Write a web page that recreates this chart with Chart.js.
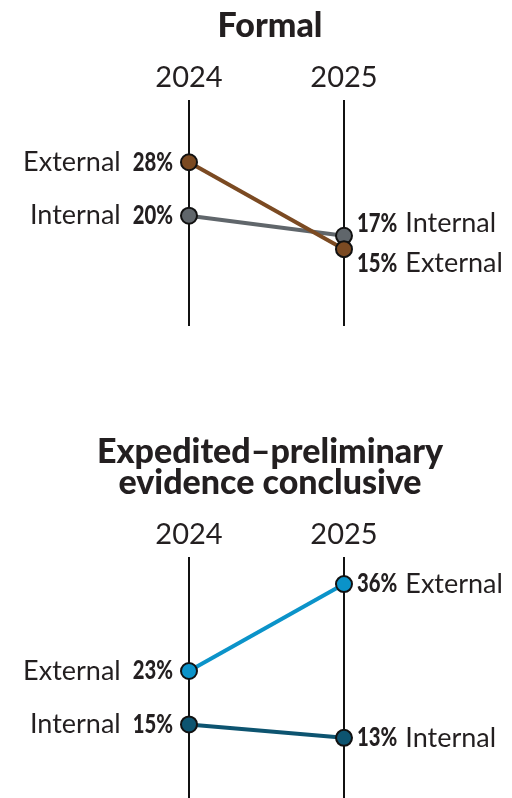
<!DOCTYPE html>
<html>
<head>
<meta charset="utf-8">
<script src="https://cdn.jsdelivr.net/npm/chart.js@4/dist/chart.umd.min.js"></script>
<style>
  html, body { margin: 0; padding: 0; background: #fff; }
  .box { position: absolute; left: 0; width: 512px; }
  #one { top: 0; height: 326px; }
  #two { top: 400px; height: 398px; }
</style>
</head>
<body>
<div class="box" id="one"><canvas id="formal"></canvas></div>
<div class="box" id="two"><canvas id="expedited"></canvas></div>
<script>
const years = [2024, 2025];

const formalTitle = 'Formal';
const formalExternal = [28, 15];
const formalInternal = [20, 17];

const expeditedTitle = ['Expedited\u2013preliminary', 'evidence conclusive'];
const expeditedExternal = [23, 36];
const expeditedInternal = [15, 13];

const ink = '#231f20';
const labelFont = "27px Lato, 'Noto Sans', sans-serif";
const pctFont = "900 26px Lato, 'Noto Sans', sans-serif";
const squeeze = 0.78; // procenten smaller maken

function drawPct(ctx, text, x, y, alignRight) {
  ctx.save();
  ctx.font = pctFont;
  const w = ctx.measureText(text).width * squeeze;
  ctx.translate(alignRight ? x - w : x, y);
  ctx.scale(squeeze, 1);
  ctx.textAlign = 'left';
  ctx.fillText(text, 0, 0);
  ctx.restore();
  return w;
}

// zet de labels naast de punten
const pointLabels = {
  id: 'pointLabels',
  afterDatasetsDraw(chart) {
    const ctx = chart.ctx;
    const sides = [[], []];
    chart.data.datasets.forEach((ds, i) => {
      const meta = chart.getDatasetMeta(i);
      meta.data.forEach((pt, j) => {
        sides[j].push({ x: pt.x, y: pt.y, name: ds.label, pct: ds.data[j].y + '%' });
      });
    });
    sides.forEach((list, side) => {
      list.sort((a, b) => a.y - b.y);
      // labels uit elkaar duwen als ze overlappen
      for (let k = 1; k < list.length; k++) {
        const gap = list[k].y - list[k - 1].y;
        if (gap < 40) {
          const push = (40 - gap) / 2;
          list[k - 1].y -= push - 1;
          list[k].y += push + 1;
        }
      }
      list.forEach(l => {
        ctx.save();
        ctx.textBaseline = 'middle';
        ctx.fillStyle = ink;
        if (side === 0) {
          const w = drawPct(ctx, l.pct, l.x - 16, l.y, true);
          ctx.font = labelFont;
          ctx.textAlign = 'right';
          ctx.fillText(l.name, l.x - 16 - w - 12, l.y);
        } else {
          const w = drawPct(ctx, l.pct, l.x + 13, l.y, false);
          ctx.font = labelFont;
          ctx.textAlign = 'left';
          ctx.fillText(l.name, l.x + 13 + w + 8, l.y);
        }
        ctx.restore();
      });
    });
  }
};

function makeChart(el, title, series, colors, yMin, yMax, padTop) {
  new Chart(document.getElementById(el), {
    type: 'line',
    data: {
      datasets: series.map((s, i) => ({
        label: s.name,
        data: s.values.map((v, j) => ({ x: years[j], y: v })),
        borderColor: colors[i],
        backgroundColor: colors[i],
        pointBackgroundColor: colors[i],
        pointBorderColor: '#111',
        pointBorderWidth: 2,
        pointRadius: 8,
        borderWidth: 4,
        clip: false
      }))
    },
    options: {
      responsive: true,
      maintainAspectRatio: false,
      animation: false,
      layout: { autoPadding: false, padding: { left: 28, right: 0, top: padTop, bottom: 0 } },
      plugins: {
        legend: { display: false },
        tooltip: { enabled: false },
        title: {
          display: true,
          text: title,
          color: ink,
          font: { family: 'Lato', size: 34, weight: 900, lineHeight: 0.92 },
          padding: { top: 0, bottom: 14 }
        }
      },
      scales: {
        x: {
          type: 'linear',
          position: 'top',
          min: 2022.9613,
          max: 2026.0839,
          afterBuildTicks: scale => { scale.ticks = years.map(v => ({ value: v })); },
          grid: { color: '#111', lineWidth: 2, drawTicks: false },
          border: { display: false },
          ticks: { color: ink, font: { family: 'Lato', size: 29 }, padding: 5, callback: v => String(v) }
        },
        y: { display: false, min: yMin, max: yMax }
      }
    },
    plugins: [pointLabels]
  });
}

makeChart('formal', formalTitle,
  [{ name: 'External', values: formalExternal }, { name: 'Internal', values: formalInternal }],
  ['#7b4a22', '#60666b'], 3.5, 37.3, 10);

makeChart('expedited', expeditedTitle,
  [{ name: 'External', values: expeditedExternal }, { name: 'Internal', values: expeditedInternal }],
  ['#0b93c9', '#0d5470'], 4, 40, 36);
</script>
</body>
</html>
